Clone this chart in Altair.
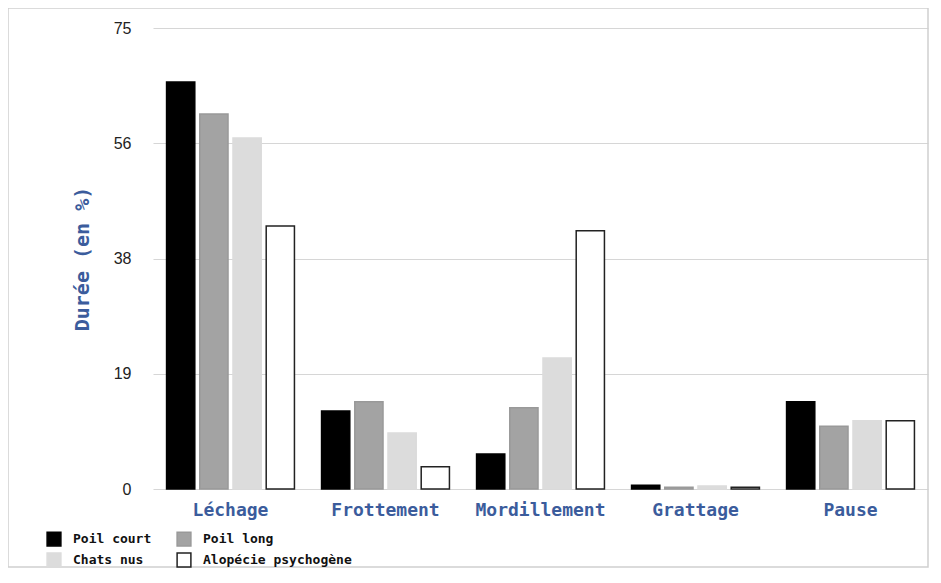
import altair as alt
import pandas as pd

categories = ["Léchage", "Frottement", "Mordillement", "Grattage", "Pause"]
groups = ["Poil court", "Poil long", "Chats nus", "Alopécie psychogène"]
poil_court = [66.2, 12.7, 5.7, 0.6, 14.2]
poil_long = [61.0, 14.2, 13.2, 0.3, 10.2]
chats_nus = [57.1, 9.1, 21.3, 0.5, 11.1]
alopecie = [42.8, 3.6, 42.0, 0.3, 11.1]
y_ticks = [0, 18.75, 37.5, 56.25, 75]

series = [poil_court, poil_long, chats_nus, alopecie]
rows = []
for g, vals in zip(groups, series):
    for c, v in zip(categories, vals):
        rows.append({"Comportement": c, "Groupe": g, "Durée": v})
df = pd.DataFrame(rows)

BLUE = "#3b5c9c"
MONO = "DejaVu Sans Mono"

bars = alt.Chart(df).mark_bar(strokeWidth=1.5).encode(
    x=alt.X("Comportement:N", sort=categories,
            scale=alt.Scale(paddingInner=0.175, paddingOuter=0.0875),
            axis=alt.Axis(title=None, labelAngle=0, labelFont=MONO, labelFontSize=18,
                          labelFontWeight="bold",
                          labelColor=BLUE, labelPadding=12, ticks=False, domain=False)),
    xOffset=alt.XOffset("Groupe:N", sort=groups, scale=alt.Scale(paddingInner=0.15)),
    y=alt.Y("Durée:Q", scale=alt.Scale(domain=[0, 75], nice=False),
            axis=alt.Axis(title="Durée (en %)", values=y_ticks, format=".0f",
                          titleFont=MONO, titleFontSize=20, titleColor=BLUE,
                          titleFontWeight="bold", titlePadding=21,
                          labelFont="Liberation Sans", labelFontSize=16, labelColor="#222222",
                          labelPadding=22, ticks=False, domain=False,
                          gridColor="#d6d6d6", gridWidth=1.2)),
    fill=alt.Fill("Groupe:N", sort=groups,
                  scale=alt.Scale(domain=groups, range=["#000000", "#a3a3a3", "#dcdcdc", "#ffffff"]),
                  legend=alt.Legend(title=None, orient="none", legendX=-107, legendY=503,
                                    columns=2, direction="horizontal", symbolType="square",
                                    symbolSize=190, symbolStrokeWidth=1.5,
                                    labelFont=MONO, labelFontSize=13, labelColor="#111111",
                                    labelFontWeight="bold",
                                    columnPadding=22, rowPadding=1, labelOffset=11)),
    stroke=alt.Stroke("Groupe:N", sort=groups,
                      scale=alt.Scale(domain=groups, range=["#000000", "#999999", "#dcdcdc", "#222222"]),
                      legend=None),
)

frame = alt.Chart(pd.DataFrame({"k": [0]})).mark_rect(
    fill=None, stroke="#d0d0d0", strokeWidth=1.5, clip=False
).encode(
    x=alt.value(-145), x2=alt.value(775), y=alt.value(-20), y2=alt.value(539)
)

chart = alt.layer(frame, bars).properties(
    width=775, height=461,
    autosize=alt.AutoSizeParams(type="none"),
    padding={"left": 145, "top": 20, "right": 5, "bottom": 90},
).configure_view(stroke=None)

chart.save("out.html", embed_options={"renderer": "svg", "actions": False})
